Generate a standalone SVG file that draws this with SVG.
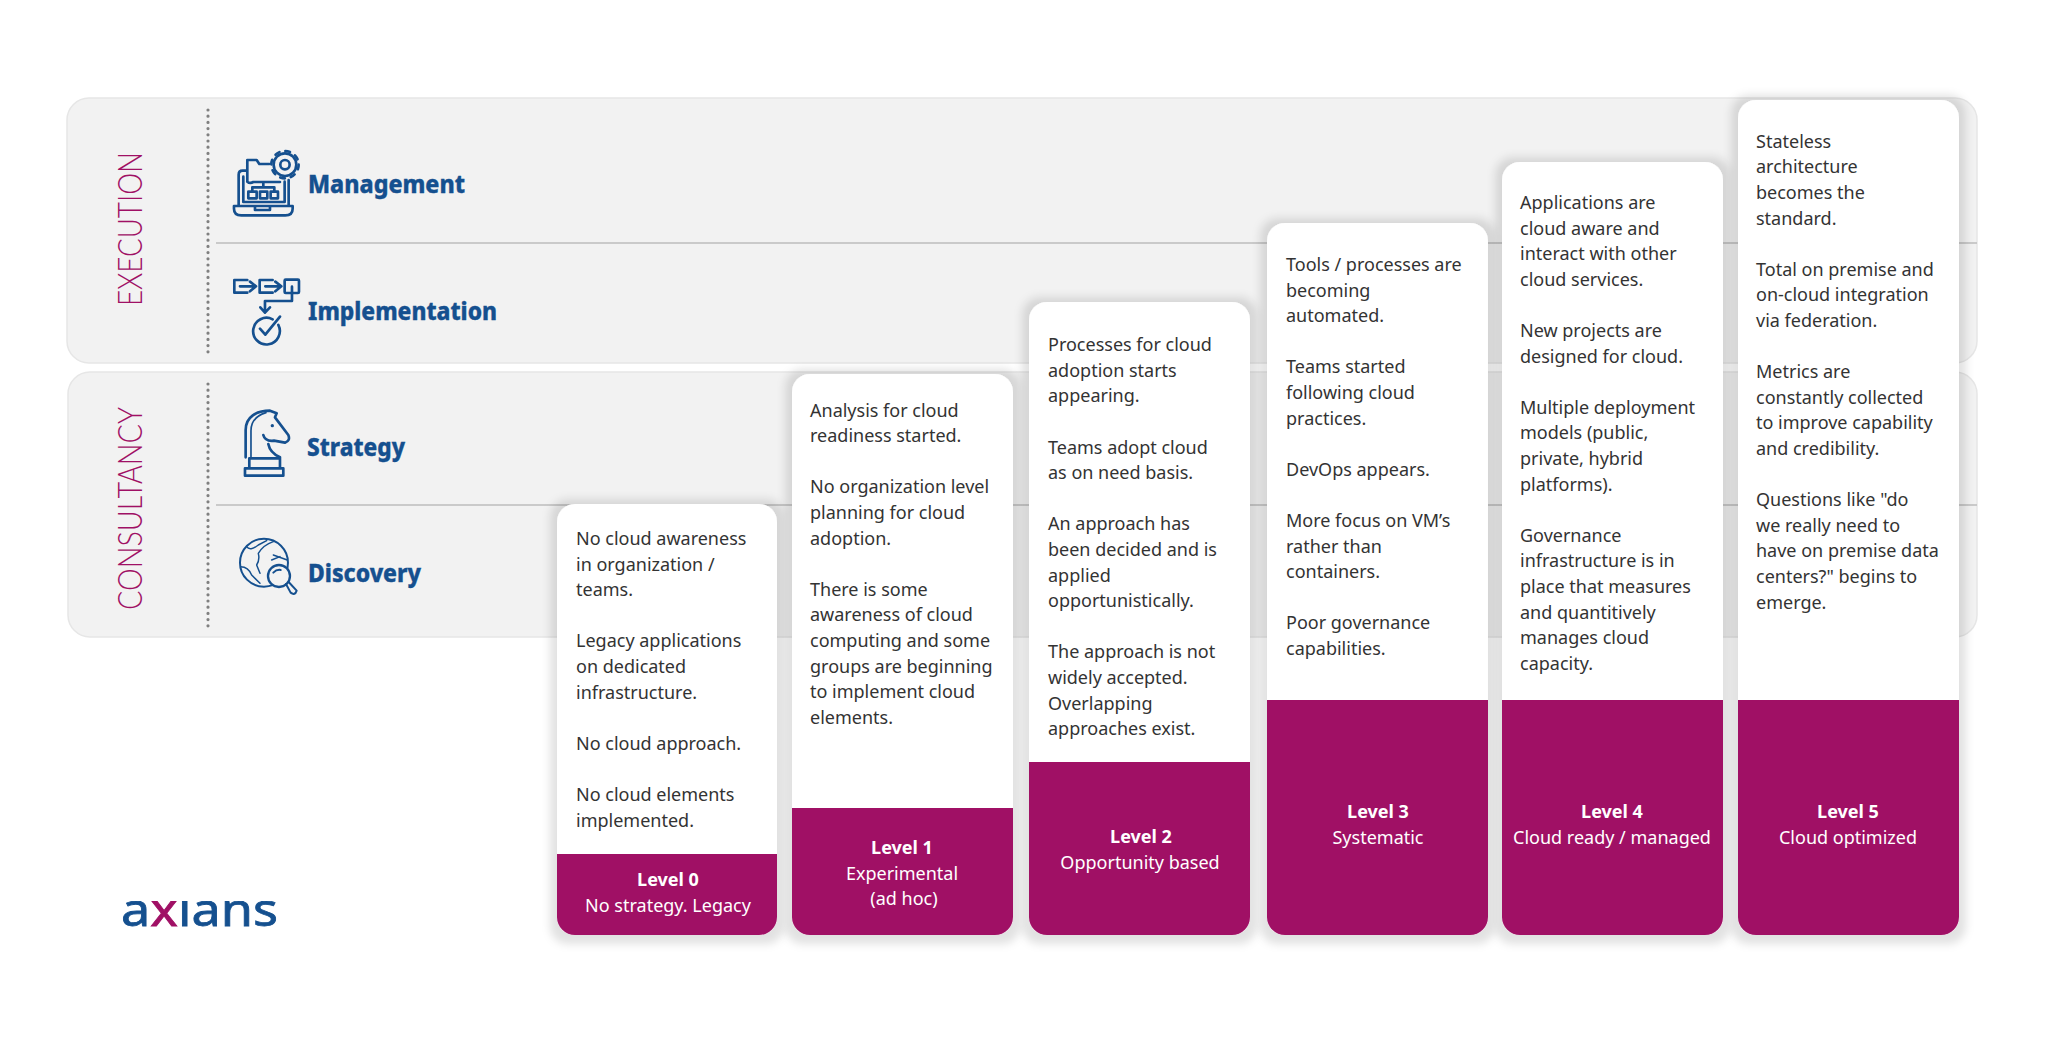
<svg xmlns="http://www.w3.org/2000/svg" width="2048" height="1042" viewBox="0 0 2048 1042">
<style>
.panel{fill:#f2f2f2;stroke:#e6e6e6;stroke-width:1.5}
.div{stroke:#bdbdbd;stroke-width:1.6;fill:none}
.dots{stroke:#808080;stroke-width:3.2;stroke-linecap:round;stroke-dasharray:0 6.2;fill:none}
.side{font-family:"Lato","Liberation Sans",sans-serif;font-weight:300;font-size:33px;fill:#a01065}
.cap{font-family:"Noto Sans","Liberation Sans",sans-serif;font-weight:800;font-size:24px;fill:#15508f;stroke:#15508f;stroke-width:.35}
.ico{fill:none;stroke:#15508f;stroke-width:8;stroke-linejoin:round;stroke-linecap:round}
.card{fill:#fff;filter:url(#sh)}
.foot{fill:#a01065}
.b{font-family:"Noto Sans","Liberation Sans",sans-serif;font-size:18px;fill:#333}
.h{font-family:"Noto Sans","Liberation Sans",sans-serif;font-size:18px;font-weight:700;fill:#fff;text-anchor:middle}
.s{font-family:"Noto Sans","Liberation Sans",sans-serif;font-size:18px;fill:#fff;text-anchor:middle}
</style>
<defs>
<filter id="sh" x="-15%" y="-10%" width="130%" height="120%"><feMorphology in="SourceAlpha" operator="dilate" radius="7" result="d"/><feOffset in="d" dy="2" result="o"/><feGaussianBlur in="o" stdDeviation="4" result="bl"/><feFlood flood-color="#000" flood-opacity="0.115"/><feComposite in2="bl" operator="in" result="sd"/><feMerge><feMergeNode in="sd"/><feMergeNode in="SourceGraphic"/></feMerge></filter>
<clipPath id="lc"><rect x="110" y="901" width="180" height="30"/></clipPath>
</defs>
<rect width="2048" height="1042" fill="#fff"/>

<g id="execution">
<rect class="panel" x="67" y="98" width="1910" height="265" rx="22"/>
<path class="dots" d="M208 110V356"/>
<path class="div" d="M216 243H1977"/>
<text class="side" transform="translate(142 306) rotate(-90)" textLength="154" lengthAdjust="spacingAndGlyphs">EXECUTION</text>
</g>
<g id="consultancy">
<rect class="panel" x="68" y="372" width="1909" height="265" rx="22"/>
<path class="dots" d="M208 384V628"/>
<path class="div" d="M216 505H1977"/>
<text class="side" transform="translate(142 610) rotate(-90)" textLength="203" lengthAdjust="spacingAndGlyphs">CONSULTANCY</text>
</g>

<g id="management">
<g transform="translate(50 80) scale(.3333)">
<path class="ico" d="M552 378H728V386Q728 406 706 406H574Q552 406 552 386ZM615 380V390H660V380M590 272H578Q566 272 566 284V378M716 300V378M580 290V366H704V305"/>
<path class="ico" d="M592 305V240H620L628 252H658M592 305Q600 312 610 306H690M595 335H620V355H595ZM630 335H652V355H630ZM662 335H684V355H662ZM607 335V322H673V335M640 322V310"/>
<circle class="ico" cx="705" cy="254" r="34"/><circle class="ico" cx="705" cy="254" r="41" stroke-dasharray="14 18.2" stroke-linecap="butt"/><circle class="ico" cx="705" cy="254" r="14"/>
</g>
<text class="cap" x="308" y="193" textLength="157" lengthAdjust="spacingAndGlyphs">Management</text>
</g>
<g id="implementation">
<g transform="translate(50 80) scale(.3333)">
<path class="ico" d="M592 600H553V638H592M570 619H610M600 605L618 619L600 634M668 600H629V638H668M646 619H686M676 605L694 619L676 634"/>
<rect class="ico" x="704" y="599" width="43" height="40" rx="3"/>
<path class="ico" d="M726 620V663H645V695M631 682L645 698L660 682"/>
<path class="ico" d="M668 718A40 40 0 1 0 685 735M630 746L646 764L690 710"/>
</g>
<text class="cap" x="308" y="319.5" textLength="189" lengthAdjust="spacingAndGlyphs">Implementation</text>
</g>
<g id="strategy">
<g transform="translate(50 370) scale(.3333)">
<path class="ico" d="M585 295H700V317H585ZM598 265H690V295H598ZM587 262V180C587 140 620 122 660 122L680 130L675 142L715 195Q722 212 705 218L672 212M640 195Q645 215 672 212M655 222Q660 248 690 262"/>
<path class="ico" style="stroke-width:5" d="M603 262V182Q603 142 648 128"/>
<circle cx="667" cy="167" r="5" fill="#15508f"/>
</g>
<text class="cap" x="307" y="456" textLength="98" lengthAdjust="spacingAndGlyphs">Strategy</text>
</g>
<g id="discovery">
<g transform="translate(50 370) scale(.3333)">
<circle class="ico" style="stroke-width:6" cx="642" cy="578" r="72"/>
<path class="ico" style="stroke-width:4.5" d="M590 530Q600 545 625 525L650 512M572 590Q595 590 605 615L630 640M670 515Q640 525 625 550Q630 570 620 585L630 610M670 555L712 570M665 570L690 560"/>
<circle cx="687" cy="618" r="33" fill="#f2f2f2" stroke="#15508f" stroke-width="7"/>
<path class="ico" style="stroke-width:6" d="M670 608Q680 598 692 600M708 642L722 668Q735 678 740 662L716 636"/>
</g>
<text class="cap" x="308" y="582" textLength="113" lengthAdjust="spacingAndGlyphs">Discovery</text>
</g>

<g id="axians-logo"><text clip-path="url(#lc)" x="121" y="926" textLength="157" lengthAdjust="spacingAndGlyphs" font-family="Noto Sans,sans-serif" font-size="46" fill="#15508f" stroke="#15508f" stroke-width=".8">a<tspan fill="#a01065" stroke="#a01065">x</tspan>ians</text></g>

<g id="level0">
<rect class="card" x="557" y="504" width="220" height="431" rx="18"/>
<path class="foot" d="M557 854H777V917a18 18 0 0 1-18 18H575a18 18 0 0 1-18-18Z"/>
<text class="b" y="545"><tspan x="576">No cloud awareness</tspan><tspan x="576" dy="25.6">in organization /</tspan><tspan x="576" dy="25.6">teams.</tspan><tspan x="576" dy="51.2">Legacy applications</tspan><tspan x="576" dy="25.6">on dedicated</tspan><tspan x="576" dy="25.6">infrastructure.</tspan><tspan x="576" dy="51.2">No cloud approach.</tspan><tspan x="576" dy="51.2">No cloud elements</tspan><tspan x="576" dy="25.6">implemented.</tspan></text>
<text class="h" x="668" y="886">Level 0</text><text class="s" x="668" y="912">No strategy. Legacy</text>
</g>
<g id="level1">
<rect class="card" x="792" y="374" width="221" height="561" rx="18"/>
<path class="foot" d="M792 808H1013V917a18 18 0 0 1-18 18H810a18 18 0 0 1-18-18Z"/>
<text class="b" y="416.5"><tspan x="810">Analysis for cloud</tspan><tspan x="810" dy="25.6">readiness started.</tspan><tspan x="810" dy="51.2">No organization level</tspan><tspan x="810" dy="25.6">planning for cloud</tspan><tspan x="810" dy="25.6">adoption.</tspan><tspan x="810" dy="51.2">There is some</tspan><tspan x="810" dy="25.6">awareness of cloud</tspan><tspan x="810" dy="25.6">computing and some</tspan><tspan x="810" dy="25.6">groups are beginning</tspan><tspan x="810" dy="25.6">to implement cloud</tspan><tspan x="810" dy="25.6">elements.</tspan></text>
<text class="h" x="902" y="854">Level 1</text><text class="s" x="902" y="880">Experimental</text><text class="s" x="904" y="905">(ad hoc)</text>
</g>
<g id="level2">
<rect class="card" x="1029" y="302" width="221" height="633" rx="18"/>
<path class="foot" d="M1029 762H1250V917a18 18 0 0 1-18 18H1047a18 18 0 0 1-18-18Z"/>
<text class="b" y="351.2"><tspan x="1048">Processes for cloud</tspan><tspan x="1048" dy="25.6">adoption starts</tspan><tspan x="1048" dy="25.6">appearing.</tspan><tspan x="1048" dy="51.2">Teams adopt cloud</tspan><tspan x="1048" dy="25.6">as on need basis.</tspan><tspan x="1048" dy="51.2">An approach has</tspan><tspan x="1048" dy="25.6">been decided and is</tspan><tspan x="1048" dy="25.6">applied</tspan><tspan x="1048" dy="25.6">opportunistically.</tspan><tspan x="1048" dy="51.2">The approach is not</tspan><tspan x="1048" dy="25.6">widely accepted.</tspan><tspan x="1048" dy="25.6">Overlapping</tspan><tspan x="1048" dy="25.6">approaches exist.</tspan></text>
<text class="h" x="1141" y="843">Level 2</text><text class="s" x="1140" y="868.5">Opportunity based</text>
</g>
<g id="level3">
<rect class="card" x="1267" y="223" width="221" height="712" rx="18"/>
<path class="foot" d="M1267 700H1488V917a18 18 0 0 1-18 18H1285a18 18 0 0 1-18-18Z"/>
<text class="b" y="271"><tspan x="1286">Tools / processes are</tspan><tspan x="1286" dy="25.6">becoming</tspan><tspan x="1286" dy="25.6">automated.</tspan><tspan x="1286" dy="51.2">Teams started</tspan><tspan x="1286" dy="25.6">following cloud</tspan><tspan x="1286" dy="25.6">practices.</tspan><tspan x="1286" dy="51.2">DevOps appears.</tspan><tspan x="1286" dy="51.2">More focus on VM’s</tspan><tspan x="1286" dy="25.6">rather than</tspan><tspan x="1286" dy="25.6">containers.</tspan><tspan x="1286" dy="51.2">Poor governance</tspan><tspan x="1286" dy="25.6">capabilities.</tspan></text>
<text class="h" x="1378" y="818">Level 3</text><text class="s" x="1378" y="844">Systematic</text>
</g>
<g id="level4">
<rect class="card" x="1502" y="162" width="221" height="773" rx="18"/>
<path class="foot" d="M1502 700H1723V917a18 18 0 0 1-18 18H1520a18 18 0 0 1-18-18Z"/>
<text class="b" y="209"><tspan x="1520">Applications are</tspan><tspan x="1520" dy="25.6">cloud aware and</tspan><tspan x="1520" dy="25.6">interact with other</tspan><tspan x="1520" dy="25.6">cloud services.</tspan><tspan x="1520" dy="51.2">New projects are</tspan><tspan x="1520" dy="25.6">designed for cloud.</tspan><tspan x="1520" dy="51.2">Multiple deployment</tspan><tspan x="1520" dy="25.6">models (public,</tspan><tspan x="1520" dy="25.6">private, hybrid</tspan><tspan x="1520" dy="25.6">platforms).</tspan><tspan x="1520" dy="51.2">Governance</tspan><tspan x="1520" dy="25.6">infrastructure is in</tspan><tspan x="1520" dy="25.6">place that measures</tspan><tspan x="1520" dy="25.6">and quantitively</tspan><tspan x="1520" dy="25.6">manages cloud</tspan><tspan x="1520" dy="25.6">capacity.</tspan></text>
<text class="h" x="1612" y="818">Level 4</text><text class="s" x="1612" y="844">Cloud ready / managed</text>
</g>
<g id="level5">
<rect class="card" x="1738" y="100" width="221" height="835" rx="18"/>
<path class="foot" d="M1738 700H1959V917a18 18 0 0 1-18 18H1756a18 18 0 0 1-18-18Z"/>
<text class="b" y="147.7"><tspan x="1756">Stateless</tspan><tspan x="1756" dy="25.6">architecture</tspan><tspan x="1756" dy="25.6">becomes the</tspan><tspan x="1756" dy="25.6">standard.</tspan><tspan x="1756" dy="51.2">Total on premise and</tspan><tspan x="1756" dy="25.6">on-cloud integration</tspan><tspan x="1756" dy="25.6">via federation.</tspan><tspan x="1756" dy="51.2">Metrics are</tspan><tspan x="1756" dy="25.6">constantly collected</tspan><tspan x="1756" dy="25.6">to improve capability</tspan><tspan x="1756" dy="25.6">and credibility.</tspan><tspan x="1756" dy="51.2">Questions like "do</tspan><tspan x="1756" dy="25.6">we really need to</tspan><tspan x="1756" dy="25.6">have on premise data</tspan><tspan x="1756" dy="25.6">centers?" begins to</tspan><tspan x="1756" dy="25.6">emerge.</tspan></text>
<text class="h" x="1848" y="818">Level 5</text><text class="s" x="1848" y="844">Cloud optimized</text>
</g>
</svg>
